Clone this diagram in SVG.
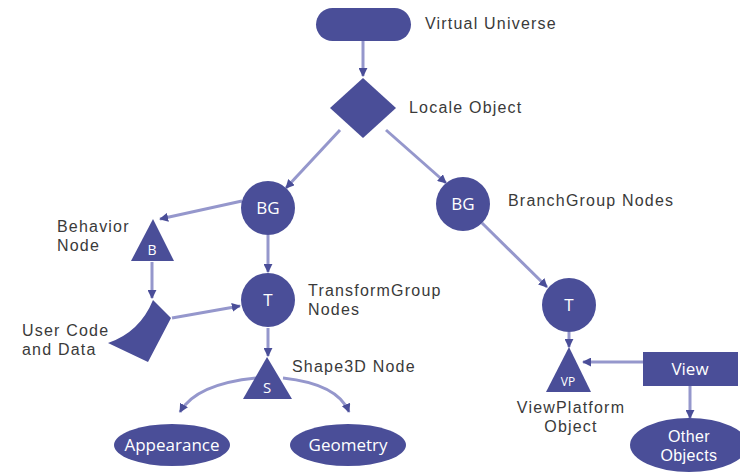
<svg xmlns="http://www.w3.org/2000/svg" width="740" height="472" viewBox="0 0 740 472">
  <defs>
    <style>
      .shape { fill: #4a4e98; }
      .link { fill: none; stroke: #9597cc; stroke-width: 3; }
      .label { font-family: "Liberation Sans", Arial, sans-serif; font-size: 16px; letter-spacing: 1.2px; fill: #3a3a3a; }
      .inner { font-family: "Open Sans", "Liberation Sans", sans-serif; font-size: 17px; fill: #fff; text-anchor: middle; }
      .inner2 { font-family: "Liberation Sans", Arial, sans-serif; font-size: 16px; letter-spacing: 0.4px; fill: #fff; text-anchor: middle; }
    </style>
    <marker id="arrow" viewBox="0 0 10 10" refX="9" refY="5" markerWidth="9" markerHeight="9" markerUnits="userSpaceOnUse" orient="auto">
      <path d="M0,0 L10,5 L0,10 Z" fill="#4a4e98"/>
    </marker>
  </defs>
  <rect width="740" height="472" fill="#fff"/>

  <g id="connectors">
    <line class="link" x1="363" y1="41" x2="363" y2="76" marker-end="url(#arrow)"/>
    <line class="link" x1="340" y1="130" x2="286" y2="188" marker-end="url(#arrow)"/>
    <line class="link" x1="386" y1="130" x2="446" y2="183" marker-end="url(#arrow)"/>
    <line class="link" x1="242" y1="201" x2="160" y2="219" marker-end="url(#arrow)"/>
    <line class="link" x1="268" y1="235" x2="268" y2="272" marker-end="url(#arrow)"/>
    <line class="link" x1="152" y1="262" x2="152" y2="298" marker-end="url(#arrow)"/>
    <line class="link" x1="172" y1="318" x2="240" y2="306" marker-end="url(#arrow)"/>
    <line class="link" x1="268" y1="328" x2="268" y2="356" marker-end="url(#arrow)"/>
    <path class="link" d="M256,378 Q196,384 180,412" marker-end="url(#arrow)"/>
    <path class="link" d="M283,378 Q338,384 349,412" marker-end="url(#arrow)"/>
    <line class="link" x1="482" y1="223" x2="547" y2="287" marker-end="url(#arrow)"/>
    <line class="link" x1="569" y1="332" x2="569" y2="347" marker-end="url(#arrow)"/>
    <line class="link" x1="643" y1="362" x2="583" y2="362" marker-end="url(#arrow)"/>
    <line class="link" x1="690" y1="386" x2="690" y2="418" marker-end="url(#arrow)"/>
  </g>

  <g id="virtual-universe">
    <rect class="shape" x="316" y="8" width="95" height="33" rx="16.5"/>
    <text class="label" x="425" y="29">Virtual Universe</text>
  </g>

  <g id="locale">
    <path class="shape" d="M363,78 L396,108 L363,138 L330,108 Z"/>
    <text class="label" x="409" y="113">Locale Object</text>
  </g>

  <g id="bg-left">
    <circle class="shape" cx="268" cy="208" r="27"/>
    <text class="inner" x="268" y="214">BG</text>
  </g>

  <g id="bg-right">
    <circle class="shape" cx="463" cy="204" r="27"/>
    <text class="inner" x="463" y="210">BG</text>
    <text class="label" x="508" y="206">BranchGroup Nodes</text>
  </g>

  <g id="behavior">
    <path class="shape" d="M153,219 L174,261 L131,261 Z"/>
    <text class="inner" x="152" y="255" style="font-size:14px">B</text>
    <text class="label" x="57" y="232">Behavior</text>
    <text class="label" x="57" y="251">Node</text>
  </g>

  <g id="user-code">
    <path class="shape" d="M153,300 L171,318 L148,362 L108,343 Q140,332 153,300 Z"/>
    <text class="label" x="22" y="336">User Code</text>
    <text class="label" x="22" y="355">and Data</text>
  </g>

  <g id="t-left">
    <circle class="shape" cx="268" cy="300" r="27"/>
    <text class="inner" x="268" y="306">T</text>
    <text class="label" x="308" y="296">TransformGroup</text>
    <text class="label" x="308" y="315">Nodes</text>
  </g>

  <g id="shape3d">
    <path class="shape" d="M267,357 L292,399 L243,399 Z"/>
    <text class="inner" x="267" y="393" style="font-size:15px">S</text>
    <text class="label" x="292" y="372">Shape3D Node</text>
  </g>

  <g id="appearance">
    <ellipse class="shape" cx="172" cy="445" rx="58" ry="21"/>
    <text class="inner" x="172" y="451">Appearance</text>
  </g>

  <g id="geometry">
    <ellipse class="shape" cx="348" cy="445" rx="58" ry="21"/>
    <text class="inner" x="348" y="451">Geometry</text>
  </g>

  <g id="t-right">
    <circle class="shape" cx="569" cy="305" r="27"/>
    <text class="inner" x="569" y="311">T</text>
  </g>

  <g id="view-platform">
    <path class="shape" d="M569,347 L591,392 L546,392 Z"/>
    <text class="inner" x="568" y="386" style="font-size:12px">VP</text>
    <text class="label" x="571" y="413" text-anchor="middle">ViewPlatform</text>
    <text class="label" x="571" y="432" text-anchor="middle">Object</text>
  </g>

  <g id="view">
    <rect class="shape" x="643" y="352" width="95" height="34"/>
    <text class="inner" x="690" y="375">View</text>
  </g>

  <g id="other-objects">
    <ellipse class="shape" cx="689" cy="445" rx="59" ry="27"/>
    <text class="inner2" x="689" y="442">Other</text>
    <text class="inner2" x="689" y="461">Objects</text>
  </g>
</svg>
